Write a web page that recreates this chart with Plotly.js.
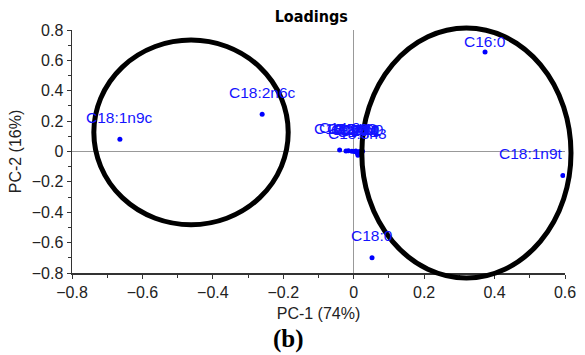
<!DOCTYPE html>
<html>
<head>
<meta charset="utf-8">
<script src="https://cdn.plot.ly/plotly-3.0.1.min.js"></script>
<style>html,body{margin:0;padding:0;background:#fff;}#chart{width:585px;height:355px;}</style>
</head>
<body>
<div id="chart"></div>
<script>
// Loadings (PC-1 vs PC-2)
const names = ["C18:1n9c","C18:2n6c","C16:0","C18:1n9t","C18:0",
  "C14:0","C18:2n6t","C15:0","C16:1","C17:0","C24:0","C17:1","C18:3n3","C20:0","C20:1","C22:0"];
const pc1 = [-0.664,-0.260,0.373,0.594,0.052,
  -0.040,-0.022,-0.015,-0.005,0.002,0.006,0.010,0.012,0.016,0.020,0.025];
const pc2 = [0.080,0.245,0.655,-0.158,-0.700,
  0.010,0.004,0.005,0.002,0.000,0.004,-0.010,-0.025,0.000,-0.005,0.002];

// highlighted groups (ellipses): centre x, centre y, half-width, half-height
const groupCx = [-0.462, 0.320];
const groupCy = [0.126, -0.010];
const groupRx = [0.276, 0.297];
const groupRy = [0.608, 0.823];

const xRange = [-0.8, 0.6];
const yRange = [-0.8, 0.8];
const px = v => (v - xRange[0]) / (xRange[1] - xRange[0]);
const py = v => (v - yRange[0]) / (yRange[1] - yRange[0]);

const shapes = groupCx.map((cx, i) => ({
  type: 'circle', xref: 'paper', yref: 'paper', layer: 'above',
  x0: px(cx - groupRx[i]), x1: px(cx + groupRx[i]),
  y0: py(groupCy[i] - groupRy[i]), y1: py(groupCy[i] + groupRy[i]),
  line: {color: '#000', width: 5}
}));

const labelShift = {"C16:0": {y: 11, x: 0}, "C18:1n9t": {y: 22, x: -32}};
const annotations = names.map((n, i) => {
  const s = labelShift[n] || {y: 22, x: 0};
  return {x: pc1[i], y: pc2[i], xref: 'x', yref: 'y', text: n, showarrow: false,
    yshift: s.y, xshift: s.x,
    font: {family: 'Liberation Sans, Arial, sans-serif', size: 15.5, color: '#1414ff'}};
});
annotations.push({xref: 'paper', yref: 'paper', x: 0.44, y: -0.27, text: '<b>(b)</b>',
  showarrow: false, xanchor: 'center', yanchor: 'middle',
  font: {family: 'Liberation Serif, Times New Roman, serif', size: 25, color: '#000'}});

const trace = {
  x: pc1, y: pc2, mode: 'markers', type: 'scatter',
  marker: {color: '#0000ff', size: 5},
  hoverinfo: 'text', text: names
};

const axisFont = {family: 'Liberation Sans, Arial, sans-serif', size: 16, color: '#222'};
const layout = {
  width: 585, height: 355,
  margin: {l: 72, r: 20, t: 30, b: 82},
  paper_bgcolor: '#fff', plot_bgcolor: '#fff',
  showlegend: false,
  title: {text: '<b>Loadings</b>', x: 0.532, xanchor: 'center', y: 0.955, yanchor: 'middle',
    font: {family: 'DejaVu Sans Condensed, Liberation Sans Narrow, Arial, sans-serif', size: 16, color: '#000'}},
  xaxis: {range: xRange, dtick: 0.2, tick0: 0, showgrid: false,
    zeroline: true, zerolinecolor: '#999', zerolinewidth: 1,
    showline: true, linecolor: '#333', linewidth: 1.5,
    ticks: 'outside', ticklen: 4, tickcolor: '#333', tickfont: axisFont,
    minor: {dtick: 0.1, ticks: 'outside', ticklen: 3, tickcolor: '#333', showgrid: false},
    title: {text: 'PC-1 (74%)', font: axisFont, standoff: 8}},
  yaxis: {range: yRange, dtick: 0.2, tick0: 0, showgrid: false,
    zeroline: true, zerolinecolor: '#999', zerolinewidth: 1,
    showline: true, linecolor: '#333', linewidth: 1.5,
    ticks: 'outside', ticklen: 4, tickcolor: '#333', tickfont: axisFont,
    minor: {dtick: 0.1, ticks: 'outside', ticklen: 3, tickcolor: '#333', showgrid: false},
    title: {text: 'PC-2 (16%)', font: axisFont, standoff: 6}},
  shapes: shapes,
  annotations: annotations
};

Plotly.newPlot('chart', [trace], layout, {staticPlot: true, displayModeBar: false});
</script>
</body>
</html>
